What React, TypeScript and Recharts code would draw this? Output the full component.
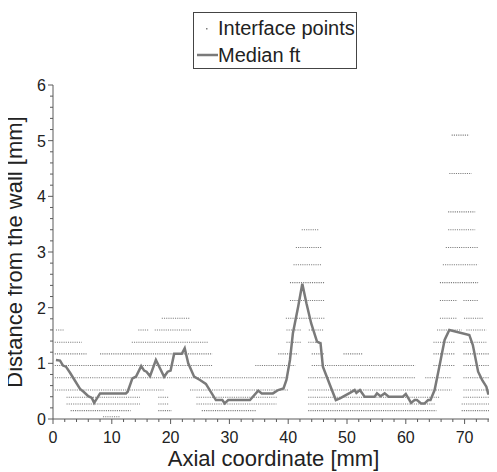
import { ComposedChart, Line, XAxis, YAxis, Legend } from "recharts";

const FONT = "'Liberation Sans', Arial, sans-serif";
const AXIS = "#5a5a5a";
const INK = "#222";
const MEDIAN = "#7a7a7a";
const DOTS = "#7c7c7c";

// axis ticks (mm)
const xTicks = [0, 2, 4, 6, 8, 10, 12, 14, 16, 18, 20, 22, 24, 26, 28, 30, 32, 34, 36, 38, 40, 42, 44, 46, 48, 50, 52, 54, 56, 58, 60, 62, 64, 66, 68, 70, 72, 74];
const yTicks = [0, 0.2, 0.4, 0.6, 0.8, 1, 1.2, 1.4, 1.6, 1.8, 2, 2.2, 2.4, 2.6, 2.8, 3, 3.2, 3.4, 3.6, 3.8, 4, 4.2, 4.4, 4.6, 4.8, 5, 5.2, 5.4, 5.6, 5.8, 6];

// median film thickness
const medianX = [0.5, 1.2, 1.7, 2.2, 2.9, 4.6, 5.2, 6.0, 6.6, 7.0, 8.0, 12.4, 12.7, 13.5, 14.1, 15.0, 15.5, 15.9, 16.5, 17.5, 18.9, 19.5, 20.0, 20.6, 21.9, 22.4, 23.0, 24.0, 25.0, 26.0, 27.7, 28.8, 29.2, 29.8, 33.5, 34.9, 35.5, 37.4, 38.3, 39.2, 39.7, 40.3, 40.8, 41.7, 42.4, 43.1, 43.9, 44.9, 45.5, 45.9, 47.1, 48.1, 48.8, 49.8, 50.5, 51.3, 51.6, 52.2, 53.0, 54.7, 55.1, 55.7, 56.4, 57.1, 59.5, 60.0, 60.9, 61.5, 61.9, 62.6, 63.2, 63.8, 64.2, 64.9, 65.7, 66.6, 67.4, 70.8, 71.4, 72.3, 73.0, 73.7, 74.0, 74.8];
const medianY = [1.06, 1.05, 0.96, 0.94, 0.83, 0.54, 0.49, 0.41, 0.38, 0.29, 0.46, 0.46, 0.49, 0.73, 0.76, 0.95, 0.87, 0.85, 0.77, 1.06, 0.76, 0.85, 0.87, 1.17, 1.17, 1.27, 1.0, 0.76, 0.70, 0.63, 0.34, 0.34, 0.28, 0.34, 0.34, 0.51, 0.46, 0.46, 0.52, 0.55, 0.70, 1.06, 1.54, 2.02, 2.43, 2.08, 1.72, 1.39, 1.36, 0.94, 0.61, 0.34, 0.37, 0.43, 0.47, 0.52, 0.47, 0.52, 0.40, 0.40, 0.46, 0.41, 0.46, 0.40, 0.40, 0.45, 0.29, 0.34, 0.34, 0.28, 0.28, 0.34, 0.34, 0.52, 0.94, 1.42, 1.60, 1.51, 1.33, 0.85, 0.70, 0.58, 0.46, 0.46];

// interface points: detected wall distances and the axial stretches where they occur
const levelY = [0.04, 0.15, 0.27, 0.39, 0.52, 0.74, 0.96, 1.17, 1.38, 1.6, 1.81, 2.13, 2.45, 2.77, 3.08, 3.4, 3.72, 4.41, 5.1];
const levelRuns = [
  [[8.5, 11.4]],
  [[3.0, 13.2], [17.9, 20.2], [25.3, 34.6], [43.4, 65.2], [69.5, 74.6]],
  [[2.3, 14.8], [17.9, 19.6], [24.4, 38.0], [43.4, 65.0], [69.5, 74.6]],
  [[2.3, 14.8], [17.9, 19.6], [24.4, 38.2], [43.4, 65.8], [69.8, 74.6]],
  [[0.3, 18.8], [23.3, 40.1], [43.4, 67.8], [69.8, 74.6]],
  [[0.3, 40.0], [43.4, 61.6], [63.3, 67.8], [69.8, 74.6]],
  [[0.3, 27.1], [34.4, 41.2], [44.0, 61.6], [64.7, 68.4], [69.8, 74.6]],
  [[0.3, 5.7], [8.0, 27.1], [38.3, 41.7], [44.0, 46.1], [49.4, 52.6], [64.7, 68.4], [69.8, 74.6]],
  [[0.3, 4.9], [13.4, 26.4], [39.7, 42.3], [43.4, 45.7], [64.7, 68.4], [69.8, 73.7]],
  [[0.5, 1.8], [14.5, 16.2], [17.3, 23.6], [39.7, 42.3], [43.5, 46.0], [65.3, 69.5], [70.3, 73.7]],
  [[18.5, 23.2], [39.6, 46.2], [65.8, 68.7], [69.9, 73.2]],
  [[40.3, 46.2], [65.8, 68.8], [69.8, 72.4]],
  [[40.3, 46.2], [65.8, 72.3]],
  [[40.9, 45.7], [66.3, 72.3]],
  [[41.3, 45.7], [66.8, 72.3]],
  [[42.3, 45.3], [67.2, 71.8]],
  [[67.2, 71.8]],
  [[67.4, 71.2]],
  [[67.8, 70.8]],
];

const medianData = medianX.map((x, i) => ({ x, y: medianY[i] }));
const rowData = levelY.map((y, i) =>
  levelRuns[i].flatMap(([a, b]) => [
    { x: a, y },
    { x: b, y },
    { x: b, y: null },
  ])
);

const isMajor = (v: number) => Math.abs(v - Math.round(v / 10) * 10) < 1e-6;
const isMajorY = (v: number) => Math.abs(v - Math.round(v)) < 1e-6;

const BottomTick = ({ x, y, payload }: any) => {
  const major = isMajor(payload.value);
  return (
    <g>
      <line x1={x} x2={x} y1={y} y2={y + (major ? 5 : 3)} stroke={AXIS} />
      {major && (
        <text x={x} y={y + 24} textAnchor="middle" fontSize={16} fontFamily={FONT} fill={INK}>
          {payload.value}
        </text>
      )}
    </g>
  );
};

const TopTick = ({ x, y, payload }: any) => {
  const major = isMajor(payload.value);
  return <line x1={x} x2={x} y1={y} y2={y - (major ? 5 : 3)} stroke={AXIS} />;
};

const LeftTick = ({ x, y, payload }: any) => {
  const major = isMajorY(payload.value);
  return (
    <g>
      <line x1={x} x2={x - (major ? 5 : 3)} y1={y} y2={y} stroke={AXIS} />
      {major && (
        <text x={x - 7} y={y + 6} textAnchor="end" fontSize={16} fontFamily={FONT} fill={INK}>
          {payload.value}
        </text>
      )}
    </g>
  );
};

const RightTick = ({ x, y, payload }: any) => {
  const major = isMajorY(payload.value);
  return <line x1={x} x2={x + (major ? 5 : 3)} y1={y} y2={y} stroke={AXIS} />;
};

const LegendBox = () => (
  <div
    style={{
      width: 164,
      height: 57,
      boxSizing: "border-box",
      border: "1px solid #444",
      background: "#fff",
      position: "relative",
      fontFamily: FONT,
      fontSize: 20,
      color: INK,
    }}
  >
    <svg width={30} height={57} style={{ position: "absolute", left: 0, top: 0 }}>
      <rect x={12} y={15} width={1.5} height={1.5} fill={DOTS} />
      <line x1={3} x2={24} y1={42} y2={42} stroke={MEDIAN} strokeWidth={2.5} />
    </svg>
    <div style={{ position: "absolute", left: 24, top: 2, lineHeight: "26px", whiteSpace: "nowrap" }}>Interface points</div>
    <div style={{ position: "absolute", left: 24, top: 29, lineHeight: "26px", whiteSpace: "nowrap" }}>Median ft</div>
  </div>
);

export default function App() {
  return (
    <div style={{ margin: "-8px 0 0 -8px", width: 497, height: 472 }}>
      <ComposedChart width={497} height={472} margin={{ top: 85, right: 3, bottom: 0, left: 8 }}>
        <XAxis
          dataKey="x"
          type="number"
          domain={[0, 75]}
          ticks={xTicks}
          interval={0}
          height={53}
          tickSize={0}
          tickMargin={0}
          tickLine={false}
          tick={<BottomTick />}
          axisLine={{ stroke: AXIS }}
          allowDataOverflow
          label={{ value: "Axial coordinate [mm]", position: "insideBottom", offset: 6, fontSize: 22, fill: INK, fontFamily: FONT }}
        />
        <XAxis
          xAxisId="top"
          orientation="top"
          dataKey="x"
          type="number"
          domain={[0, 75]}
          ticks={xTicks}
          interval={0}
          height={0}
          tickSize={0}
          tickMargin={0}
          tickLine={false}
          tick={<TopTick />}
          axisLine={{ stroke: AXIS }}
          allowDataOverflow
        />
        <YAxis
          type="number"
          domain={[0, 6]}
          ticks={yTicks}
          interval={0}
          width={45}
          tickSize={0}
          tickMargin={0}
          tickLine={false}
          tick={<LeftTick />}
          axisLine={{ stroke: AXIS }}
          allowDataOverflow
          label={{
            value: "Distance from the wall [mm]",
            angle: -90,
            position: "insideLeft",
            offset: 6,
            fontSize: 22,
            fill: INK,
            fontFamily: FONT,
            style: { textAnchor: "middle" },
          }}
        />
        <YAxis
          yAxisId="right"
          orientation="right"
          type="number"
          domain={[0, 6]}
          ticks={yTicks}
          interval={0}
          width={0}
          tickSize={0}
          tickMargin={0}
          tickLine={false}
          tick={<RightTick />}
          axisLine={{ stroke: AXIS }}
          allowDataOverflow
        />
        <Legend
          layout="horizontal"
          verticalAlign="middle"
          align="center"
          wrapperStyle={{ top: 12, left: 193, width: 166, height: 58 }}
          content={() => <LegendBox />}
        />
        {rowData.map((d, i) => (
          <Line
            key={`row-${i}`}
            data={d}
            dataKey="y"
            name="Interface points"
            stroke={DOTS}
            strokeWidth={1.1}
            strokeDasharray="1.1 1.1"
            dot={false}
            activeDot={false}
            connectNulls={false}
            isAnimationActive={false}
            legendType="none"
          />
        ))}
        <Line
          data={medianData}
          dataKey="y"
          name="Median ft"
          type="linear"
          stroke={MEDIAN}
          strokeWidth={2.5}
          dot={false}
          activeDot={false}
          isAnimationActive={false}
        />
      </ComposedChart>
    </div>
  );
}
